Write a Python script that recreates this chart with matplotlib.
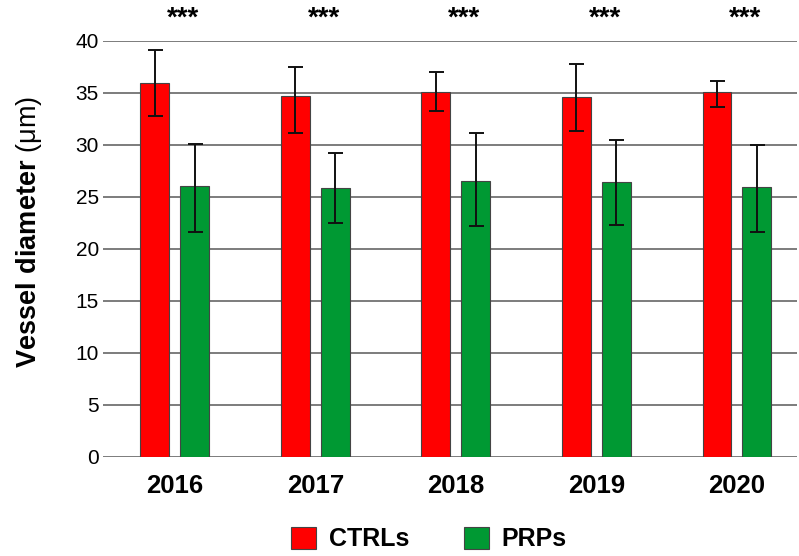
import matplotlib
matplotlib.use("Agg")
import matplotlib.pyplot as plt
import numpy as np
from matplotlib.patches import Patch

years = ["2016", "2017", "2018", "2019", "2020"]
ctrl = [36.0, 34.7, 35.1, 34.6, 35.1]
ctrl_hi = [39.1, 37.5, 37.05, 37.8, 36.2]
ctrl_lo = [32.8, 31.2, 33.3, 31.35, 33.7]
prp = [26.05, 25.9, 26.5, 26.4, 26.0]
prp_hi = [30.1, 29.2, 31.15, 30.5, 30.0]
prp_lo = [21.6, 22.5, 22.2, 22.3, 21.6]
signif = ["***", "***", "***", "***", "***"]
series_names = ["CTRLs", "PRPs"]

plt.rcParams['font.family'] = ['Liberation Sans', 'DejaVu Sans']
plt.rcParams['mathtext.fontset'] = 'custom'
plt.rcParams['mathtext.rm'] = 'Liberation Sans'
plt.rcParams['mathtext.bf'] = 'Liberation Sans:bold'

red = "#FF0000"
green = "#009933"

fig = plt.figure(figsize=(7.99, 5.56), dpi=100)
ax = fig.add_axes([103/799, 99/556, 1 - 103/799 - 0.002, (457-41)/556])

x = np.arange(len(years))
w = 0.206
off = 0.142
c = np.array(ctrl); p = np.array(prp)
ax.bar(x - off, c, w, color=red, edgecolor="#444444", linewidth=0.8, zorder=3)
ax.bar(x + off, p, w, color=green, edgecolor="#444444", linewidth=0.8, zorder=3)
ax.errorbar(x - off, c, yerr=[c - np.array(ctrl_lo), np.array(ctrl_hi) - c],
            fmt='none', ecolor='#111111', elinewidth=1.4, capsize=5.4, capthick=1.4, zorder=4)
ax.errorbar(x + off, p, yerr=[p - np.array(prp_lo), np.array(prp_hi) - p],
            fmt='none', ecolor='#111111', elinewidth=1.4, capsize=5.4, capthick=1.4, zorder=4)

for xi, s in zip(x, signif):
    ax.text(xi + 0.06, 40.9, s, ha='center', va='bottom', fontsize=20,
            fontweight='bold', clip_on=False)

ax.set_xlim(-0.51, 4.43)
ax.set_ylim(0, 40)
ax.set_yticks(np.arange(0, 41, 5))
ax.yaxis.grid(True, color='#666666', linewidth=1.2, zorder=0)
ax.set_axisbelow(True)
for sp in ax.spines.values():
    sp.set_visible(False)
ax.tick_params(axis='y', length=0, pad=3, labelsize=15)
ax.set_xticks(x)
ax.set_xticklabels(years, fontsize=18.5, fontweight='bold')
ax.tick_params(axis='x', length=0, pad=12)

fig.text(29/799, 1 - 232/556, r"$\mathbf{Vessel\ diameter}$ (μm)", rotation=90,
         ha='center', va='center', fontsize=19.5)

handles = [Patch(facecolor=red, edgecolor="#444444", linewidth=0.8),
           Patch(facecolor=green, edgecolor="#444444", linewidth=0.8)]
leg = fig.legend(handles, series_names, loc='lower center', bbox_to_anchor=(0.537, -0.032),
                 ncol=2, frameon=False, handlelength=1.0, handleheight=1.0,
                 columnspacing=2.2, handletextpad=0.5,
                 prop={'size': 18, 'weight': 'bold'})

fig.savefig("out.png", dpi=100)
